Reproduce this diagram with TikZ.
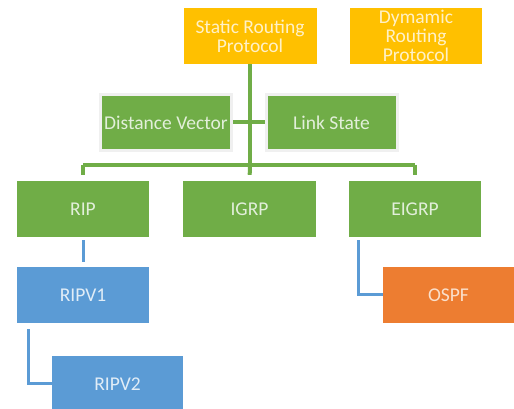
\documentclass[tikz,border=0pt]{standalone}
\usepackage{fontspec}
\setmainfont{Carlito}
\definecolor{cgold}{HTML}{FFC000}
\definecolor{cgreen}{HTML}{70AD47}
\definecolor{cblue}{HTML}{5B9BD5}
\definecolor{corange}{HTML}{ED7D31}
\tikzset{
  boxbase/.style={rectangle, minimum width=133pt, minimum height=56pt, inner sep=1pt, align=center, font=\fontsize{19.5}{19}\selectfont},
  goldbox/.style={boxbase, fill=cgold, text=white!78!cgold},
  greenbox/.style={boxbase, fill=cgreen, text=white!80!cgreen},
  framedbox/.style={greenbox, draw=gray!12, line width=3pt, minimum width=131pt, minimum height=56pt},
  bluebox/.style={boxbase, fill=cblue, text=white!82!cblue},
  orangebox/.style={boxbase, fill=corange, text=white!75!corange},
  gline/.style={draw=cgreen, line width=4pt},
  bline/.style={draw=cblue, line width=3pt}
}
\begin{document}
\begin{tikzpicture}[x=1pt,y=1pt]
\useasboundingbox (0,0) rectangle (514,409);
\fill[white] (0,0) rectangle (514,409);
% nodes
\node[goldbox] (static) at (250,373) {Static Routing\\Protocol};
\node[goldbox, minimum width=132pt] (dyn) at (416,373) {Dymamic\\Routing\\Protocol};
\node[framedbox] (dv) at (166,286.5) {Distance Vector};
\node[framedbox] (ls) at (331.5,286.5) {Link State};
\node[greenbox, minimum width=132pt] (rip) at (83,200) {RIP};
\node[greenbox] (igrp) at (249.5,200) {IGRP};
\node[greenbox, minimum width=132pt] (eigrp) at (415,200) {EIGRP};
\node[bluebox, minimum width=132pt] (ripv1) at (83,114) {RIPV1};
\node[orangebox, minimum width=131pt] (ospf) at (448.5,114) {OSPF};
\node[bluebox, minimum width=131pt] (ripv2) at (117.5,25) {RIPV2};
% connectors
\coordinate (bar) at (250,244);
\coordinate (barL) at (83,244);
\coordinate (barR) at (415,244);
\draw[gline] (static.south) -- (bar);
\draw[gline] (dv.east) -- (ls.west);
\draw[gline] (barL) -- (barR);
\draw[gline, shorten >=6pt] (barL) -- (rip.north);
\draw[gline, shorten >=6pt] (bar) -- (igrp.north);
\draw[gline, shorten >=6pt] (barR) -- (eigrp.north);
\draw[bline, shorten <=3pt, shorten >=5pt] (rip.south) -- (ripv1.north);
\draw[bline, shorten <=3pt] ([xshift=10pt]eigrp.south west) |- (ospf.west);
\draw[bline, shorten <=6pt] ([xshift=12pt]ripv1.south west) |- (ripv2.west);
\end{tikzpicture}
\end{document}
